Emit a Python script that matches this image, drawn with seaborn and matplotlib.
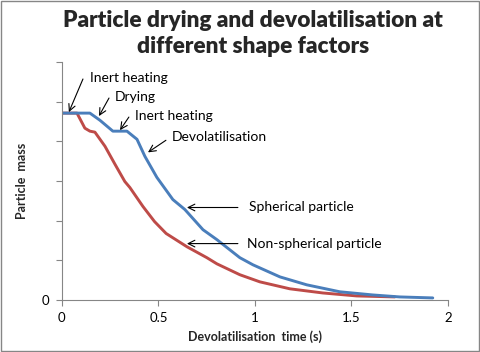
import matplotlib

matplotlib.use("Agg")
import matplotlib.pyplot as plt
import pandas as pd
import seaborn as sns
from matplotlib.patches import Rectangle

# values (mass in axis units, time in s)
spherical_time = [0.000, 0.145, 0.197, 0.264, 0.337, 0.389, 0.430, 0.492, 0.575, 0.637,
                  0.731, 0.803, 0.922, 0.990, 1.130, 1.269, 1.440, 1.611, 1.751, 1.922]
spherical_mass = [0.942, 0.942, 0.906, 0.851, 0.851, 0.810, 0.724, 0.618, 0.506, 0.456,
                  0.354, 0.304, 0.213, 0.177, 0.116, 0.076, 0.041, 0.025, 0.015, 0.010]
nonspherical_time = [0.000, 0.078, 0.119, 0.145, 0.171, 0.223, 0.275, 0.326, 0.352, 0.420,
                     0.480, 0.540, 0.648, 0.751, 0.803, 0.922, 1.026, 1.181, 1.352, 1.528, 1.725]
nonspherical_mass = [0.942, 0.942, 0.866, 0.851, 0.846, 0.775, 0.684, 0.597, 0.567, 0.471,
                     0.395, 0.335, 0.268, 0.213, 0.182, 0.127, 0.091, 0.056, 0.035, 0.020, 0.015]

x_ticks = [0, 0.5, 1, 1.5, 2]
x_tick_labels = ["0", "0.5", "1", "1.5", "2"]
y_ticks = [0, 0.2, 0.4, 0.6, 0.8, 1.0, 1.2]

# (label, text position, arrow tail, arrow head)
notes = [
    ("Inert heating", (0.145, 1.119), (0.109, 1.114), (0.036, 0.947)),
    ("Drying", (0.275, 1.023), (0.244, 1.018), (0.192, 0.927)),
    ("Inert heating", (0.378, 0.927), (0.347, 0.922), (0.301, 0.856)),
    ("Devolatilisation", (0.570, 0.820), (0.539, 0.805), (0.446, 0.744)),
    ("Spherical particle", (0.969, 0.471), (0.912, 0.466), (0.648, 0.466)),
    ("Non-spherical particle", (0.959, 0.284), (0.912, 0.284), (0.648, 0.284)),
]

df = pd.concat([
    pd.DataFrame({"time": spherical_time, "mass": spherical_mass, "shape": "Spherical"}),
    pd.DataFrame({"time": nonspherical_time, "mass": nonspherical_mass, "shape": "Non-spherical"}),
])

sns.set_theme(style="white")
plt.rcParams["font.family"] = ["Lato", "DejaVu Sans"]

fig = plt.figure(figsize=(4.8, 3.52), dpi=100)
ax = fig.add_axes([0.129, 0.148, 0.804, 0.676])

sns.lineplot(
    data=df,
    x="time",
    y="mass",
    hue="shape",
    palette={"Spherical": "#4A7EBB", "Non-spherical": "#BE4B48"},
    hue_order=["Non-spherical", "Spherical"],
    estimator=None,
    sort=False,
    linewidth=2.1,
    legend=False,
    ax=ax,
)

ax.set_xlim(0, 2)
ax.set_ylim(0, 1.2)
ax.set_xticks(x_ticks)
ax.set_xticklabels(x_tick_labels)
ax.set_yticks(y_ticks)
ax.set_yticklabels(["0"] + [""] * (len(y_ticks) - 1))
ax.tick_params(axis="both", which="major", direction="out", length=4, width=0.8,
               color="#868686", labelsize=9.5, labelcolor="black", pad=5, bottom=True, left=True)

for side in ["top", "right"]:
    ax.spines[side].set_visible(False)
for side in ["left", "bottom"]:
    ax.spines[side].set_color("#868686")
    ax.spines[side].set_linewidth(0.8)

ax.set_xlabel("Devolatilisation  time (s)", fontsize=9, fontweight="bold", labelpad=4)
ax.set_ylabel("Particle  mass", fontsize=9, fontweight="bold", labelpad=10)

for label, text_xy, tail, head in notes:
    ax.annotate("", xy=head, xytext=tail,
                arrowprops=dict(arrowstyle="->", color="black", lw=0.8, shrinkA=0, shrinkB=0))
    ax.text(text_xy[0], text_xy[1], label, fontsize=10, ha="left", va="center", color="black")

fig.text(0.527, 0.906, "Particle drying and devolatilisation at\ndifferent shape factors",
         ha="center", va="center", fontsize=16.3, fontweight="heavy", linespacing=1.3)

fig.patches.append(Rectangle((0.002, 0.003), 0.995, 0.994, transform=fig.transFigure,
                             fill=False, edgecolor="#868686", linewidth=1))

fig.savefig("out.png", dpi=100)
plt.close(fig)
